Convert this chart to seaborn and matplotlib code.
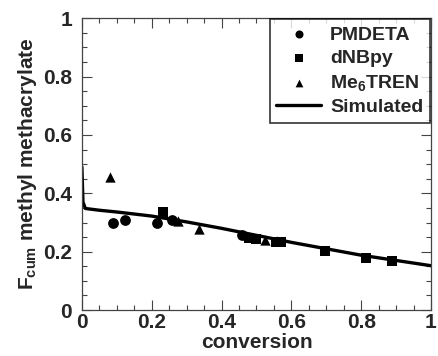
import numpy as np
import pandas as pd
import matplotlib
matplotlib.use('Agg')
import matplotlib.pyplot as plt
import seaborn as sns
from matplotlib.ticker import MultipleLocator, FuncFormatter

# data
pmdeta_x = [0.089, 0.124, 0.215, 0.257, 0.458]
pmdeta_y = [0.298, 0.310, 0.300, 0.310, 0.258]

dnbpy_x = [0.233, 0.480, 0.500, 0.555, 0.570, 0.695, 0.815, 0.887]
dnbpy_y = [0.336, 0.248, 0.245, 0.232, 0.232, 0.202, 0.177, 0.167]

me6tren_x = [0.081, 0.275, 0.335, 0.525, 0.560]
me6tren_y = [0.455, 0.305, 0.278, 0.240, 0.235]

sim_x = [0.0, 0.003, 0.01, 0.05, 0.1, 0.2, 0.3, 0.4, 0.5, 0.6, 0.7, 0.8, 0.9, 1.0]
sim_y = [0.49, 0.37, 0.348, 0.342, 0.336, 0.322, 0.302, 0.280, 0.256, 0.232, 0.210, 0.188, 0.170, 0.152]

sns.set_style('ticks')
plt.rcParams['font.family'] = ['Liberation Sans', 'DejaVu Sans']
plt.rcParams['font.weight'] = 'bold'
plt.rcParams['mathtext.fontset'] = 'custom'
plt.rcParams['mathtext.rm'] = 'Liberation Sans:bold'
plt.rcParams['mathtext.bf'] = 'Liberation Sans:bold'
plt.rcParams['mathtext.it'] = 'Liberation Sans:bold'

fig = plt.figure(figsize=(4.38, 3.56), dpi=100)
ax = fig.add_axes([0.187, 0.129, 0.797, 0.820])

kw = dict(color='black', edgecolor='black', linewidth=0, ax=ax)
sns.scatterplot(x=pmdeta_x, y=pmdeta_y, marker='o', s=60, label='PMDETA', **kw)
sns.scatterplot(x=dnbpy_x, y=dnbpy_y, marker='s', s=55, label='dNBpy', **kw)
sns.scatterplot(x=me6tren_x, y=me6tren_y, marker='^', s=55, label=r'Me$_6$TREN', **kw)
sns.lineplot(x=sim_x, y=sim_y, color='black', linewidth=2.4, sort=False,
             label='Simulated', ax=ax)

ax.set_xlim(0, 1)
ax.set_ylim(0, 1)
ax.xaxis.set_major_locator(MultipleLocator(0.2))
ax.yaxis.set_major_locator(MultipleLocator(0.2))
ax.xaxis.set_minor_locator(MultipleLocator(0.05))
ax.yaxis.set_minor_locator(MultipleLocator(0.05))
fmt = FuncFormatter(lambda v, p: '%g' % round(v, 2))
ax.xaxis.set_major_formatter(fmt)
ax.yaxis.set_major_formatter(fmt)
ax.tick_params(which='both', direction='in', top=True, right=True,
               color='#444444', width=0.8, labelsize=15)
ax.tick_params(which='major', length=7)
ax.tick_params(axis='x', which='major', pad=2)
# a wider pad keeps the y "0" clear of the x "0"
ax.tick_params(axis='y', which='major', pad=7)
ax.tick_params(which='minor', length=3.5)
for s in ax.spines.values():
    s.set_color('#444444')
    s.set_linewidth(0.9)

ax.set_xlabel('conversion', fontsize=15, fontweight='bold', labelpad=1)
ax.set_ylabel(r'F$_{\mathbf{cum}}$ methyl methacrylate', fontsize=15,
              fontweight='bold', labelpad=3)

leg = ax.legend(loc='upper right', frameon=True, fancybox=False,
                edgecolor='black', fontsize=14, handlelength=2.3,
                borderaxespad=0.05, borderpad=0.35, labelspacing=0.3,
                handletextpad=0.45, markerscale=0.75)
leg.get_frame().set_linewidth(1.2)
for t in leg.get_texts():
    t.set_fontweight('bold')

fig.savefig('out.png', dpi=100)
